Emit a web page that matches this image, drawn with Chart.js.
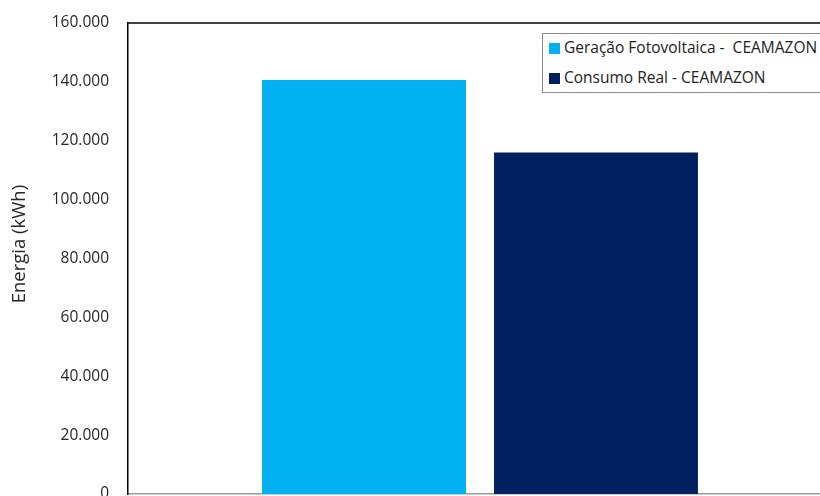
<!DOCTYPE html>
<html>
<head>
<meta charset="utf-8">
<script src="https://cdn.jsdelivr.net/npm/chart.js@4"></script>
<style>
  html, body { margin: 0; padding: 0; background: #fff; overflow: hidden; }
  #wrap { position: relative; width: 820px; height: 496px; overflow: hidden; }
  #box { position: absolute; left: 0; top: 0; width: 900px; height: 540px; }
  #legend {
    position: absolute; left: 542px; top: 33px; width: 300px; height: 58px;
    border: 1px solid #8c8c8c; background: #fff;
    font-family: "Open Sans", sans-serif; font-size: 15.5px; color: #222;
  }
  #legend div { position: absolute; left: 6px; white-space: pre; }
  #legend span { display: inline-block; width: 11px; height: 11px; margin-right: 4px; vertical-align: -1px; }
</style>
</head>
<body>
<div id="wrap">
  <div id="box"><canvas id="chart1" width="900" height="540"></canvas></div>
  <div id="legend"></div>
</div>
<script>
// energia anual (kWh)
const categories = ['CEAMAZON']
const seriesNames = ['Geração Fotovoltaica -  CEAMAZON', 'Consumo Real - CEAMAZON']
const geracao = [140600]
const consumo = [116000]
const yTicks = [0, 20000, 40000, 60000, 80000, 100000, 120000, 140000, 160000]

function fmt(v){
	// separador de milhar com ponto
	return String(v).replace(/\B(?=(\d{3})+(?!\d))/g, '.')
}

// moldura: linha superior do gráfico
const topLine = {
	id: 'topLine',
	afterDraw(chart){
		const a = chart.chartArea
		const c = chart.ctx
		c.save()
		c.strokeStyle = '#000'
		c.lineWidth = 1.5
		c.beginPath()
		c.moveTo(a.left, a.top)
		c.lineTo(a.right + 50, a.top)
		c.stroke()
		c.restore()
	}
}

const ctx1 = document.getElementById('chart1').getContext('2d')
const myChart = new Chart(ctx1, {
	type: 'bar',
	data: {
		labels: categories,
		datasets: [{
			label: seriesNames[0],
			data: geracao,
			backgroundColor: '#00B0F0'
		}, {
			label: seriesNames[1],
			data: consumo,
			backgroundColor: '#002060'
		}]
	},
	options: {
		responsive: false,
		animation: false,
		layout: { padding: { top: 23, right: 68, bottom: 46, left: 0 } },
		categoryPercentage: 0.659,
		barPercentage: 0.879,
		plugins: { legend: { display: false }, tooltip: { enabled: false } },
		scales: {
			x: {
				ticks: { display: false },
				grid: { display: false },
				border: { display: true, color: '#9a9a9a', width: 1.5 },
				afterFit(s){ s.height = 0 }
			},
			y: {
				min: 0,
				max: 160000,
				afterBuildTicks(s){ s.ticks = yTicks.map(v => ({ value: v })) },
				ticks: {
					padding: 11,
					color: '#262626',
					font: { family: '"Open Sans", sans-serif', size: 15.5 },
					callback: v => fmt(v)
				},
				grid: { display: false },
				border: { display: true, color: '#000', width: 1.5 },
				title: {
					display: true,
					// espaços à esquerda sobem o título um pouco
					text: '      Energia (kWh)',
					color: '#262626',
					padding: { top: 9, bottom: 0 },
					font: { family: '"Open Sans", sans-serif', size: 18.5 }
				},
				afterFit(s){ s.width = 128 }
			}
		}
	},
	plugins: [topLine]
})

// legenda em caixa
const leg = document.getElementById('legend')
myChart.data.datasets.forEach((d, i) => {
	const row = document.createElement('div')
	row.style.top = (i === 0 ? 2 : 32) + 'px'
	row.innerHTML = '<span style="background:' + d.backgroundColor + '"></span>' + d.label
	leg.appendChild(row)
})
</script>
</body>
</html>
